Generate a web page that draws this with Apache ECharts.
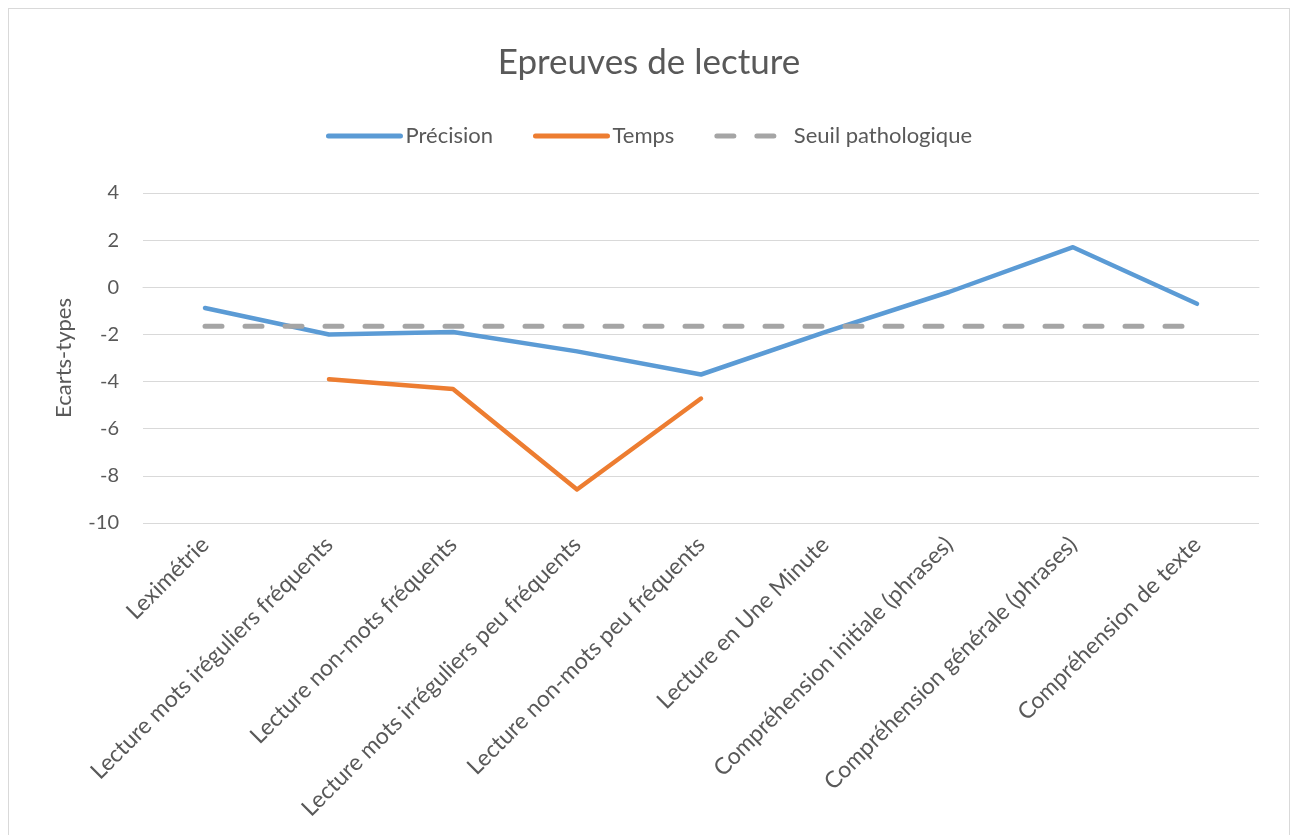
<!DOCTYPE html>
<html>
<head>
    <meta charset="UTF-8">
    <title>Epreuves de lecture</title>
    <script src="https://cdn.jsdelivr.net/npm/echarts@6/dist/echarts.min.js"></script>
    <style>
        body {
            margin: 0;
            padding: 0;
            background: #fff;
        }

        #frame {
            position: absolute;
            left: 8px;
            top: 8px;
            width: 1282px;
            height: 840px;
            border: 1px solid #d9d9d9;
            box-sizing: border-box;
        }

        #chart {
            position: absolute;
            left: 0;
            top: 0;
            width: 1298px;
            height: 835px;
        }
    </style>
</head>
<body>
<div id="frame"></div>
<div id="chart"></div>
<script>
    // epreuves (axe des x)
    var categories = [
        'Leximétrie',
        'Lecture mots iréguliers fréquents',
        'Lecture non-mots fréquents',
        'Lecture mots irréguliers peu fréquents',
        'Lecture non-mots peu fréquents',
        'Lecture en Une Minute',
        'Compréhension initiale (phrases)',
        'Compréhension générale (phrases)',
        'Compréhension de texte'
    ];
    var precision = [-0.88, -2.0, -1.9, -2.72, -3.7, -1.9, -0.2, 1.7, -0.7];
    var temps = [null, -3.9, -4.32, -8.58, -4.72, null, null, null, null];
    var seuil = [-1.65, -1.65, -1.65, -1.65, -1.65, -1.65, -1.65, -1.65, -1.65];
    var yTicks = [4, 2, 0, -2, -4, -6, -8, -10];

    var txt = '#595959';
    var font = 'Lato, "Open Sans", sans-serif';

    var chart = echarts.init(document.getElementById('chart'), null, {renderer: 'canvas'});
    var option = {
        backgroundColor: 'transparent',
        animation: false,
        textStyle: {fontFamily: font},
        title: {
            text: 'Epreuves de lecture',
            left: 'center',
            top: 40,
            textStyle: {color: txt, fontSize: 35, fontWeight: 'normal', fontFamily: font}
        },
        legend: {
            top: 120,
            left: 'center',
            itemWidth: 72,
            itemHeight: 6,
            itemGap: 40,
            itemStyle: {opacity: 0},
            lineStyle: {width: 5},
            textStyle: {color: txt, fontSize: 22, fontFamily: font},
            data: ['Précision', 'Temps', 'Seuil pathologique']
        },
        grid: {
            left: 143,
            right: 39,
            top: 193,
            bottom: 312,
            containLabel: false
        },
        xAxis: {
            type: 'category',
            data: categories,
            boundaryGap: true,
            axisLine: {show: true, lineStyle: {color: '#d9d9d9', width: 1}},
            axisTick: {show: false},
            axisLabel: {
                rotate: 45,
                interval: 0,
                margin: 18,
                color: txt,
                fontSize: 23,
                fontFamily: font
            }
        },
        yAxis: {
            type: 'value',
            min: yTicks[yTicks.length - 1],
            max: yTicks[0],
            interval: 2,
            name: 'Ecarts-types',
            nameLocation: 'middle',
            nameGap: 68,
            nameTextStyle: {color: txt, fontSize: 22, fontFamily: font},
            axisLine: {show: false},
            axisTick: {show: false},
            axisLabel: {color: txt, fontSize: 20, margin: 24, fontFamily: font},
            splitLine: {lineStyle: {color: '#d9d9d9', width: 1}}
        },
        series: [
            {
                name: 'Précision',
                type: 'line',
                data: precision,
                showSymbol: false,
                symbol: 'none',
                itemStyle: {color: '#5b9bd5'},
                lineStyle: {color: '#5b9bd5', width: 4.5, cap: 'round', join: 'round'}
            },
            {
                name: 'Temps',
                type: 'line',
                data: temps,
                showSymbol: false,
                symbol: 'none',
                connectNulls: false,
                itemStyle: {color: '#ed7d31'},
                lineStyle: {color: '#ed7d31', width: 4.5, cap: 'round', join: 'round'}
            },
            {
                name: 'Seuil pathologique',
                type: 'line',
                data: seuil,
                showSymbol: false,
                symbol: 'none',
                itemStyle: {color: '#a5a5a5'},
                lineStyle: {color: '#a5a5a5', width: 5, type: [17, 23], cap: 'round'}
            }
        ]
    };
    chart.setOption(option);
</script>
</body>
</html>
